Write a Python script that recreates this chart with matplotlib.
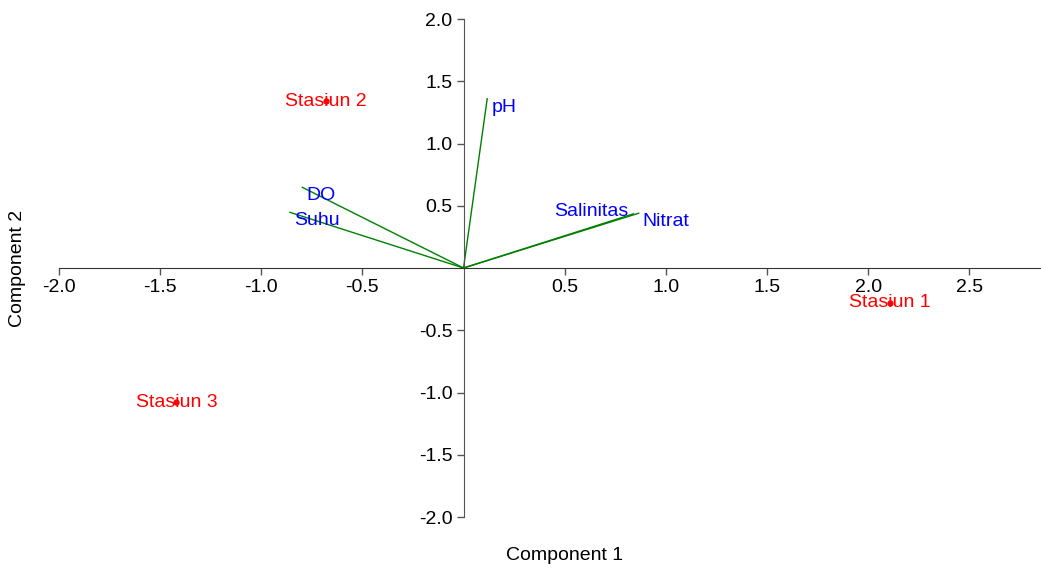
import matplotlib
matplotlib.use('Agg')
import matplotlib.pyplot as plt
import numpy as np

plt.rcParams['font.family'] = ['Liberation Sans', 'DejaVu Sans']
plt.rcParams['axes.unicode_minus'] = False

# skor stasiun
stations = ['Stasiun 1', 'Stasiun 2', 'Stasiun 3']
station_x = [2.11, -0.68, -1.42]
station_y = [-0.28, 1.34, -1.08]

# loading variabel
variables = ['pH', 'DO', 'Suhu', 'Salinitas', 'Nitrat']
load_x = [0.117, -0.797, -0.858, 0.84, 0.866]
load_y = [1.36, 0.648, 0.447, 0.435, 0.44]

xticks = [-2.0, -1.5, -1.0, -0.5, 0.5, 1.0, 1.5, 2.0, 2.5]
yticks = [-2.0, -1.5, -1.0, -0.5, 0.5, 1.0, 1.5, 2.0]

fig = plt.figure(figsize=(10.41, 5.70), dpi=100)
ax = fig.add_axes([59 / 1041, 1 - 517 / 570, 1 - 59 / 1041, (517 - 19) / 570])
ax.set_xlim(-2.0, 2.855)
ax.set_ylim(-2.0, 2.0)

for s in ['top', 'right']:
    ax.spines[s].set_visible(False)
ax.spines['left'].set_position(('data', 0))
ax.spines['bottom'].set_position(('data', 0))
ax.spines['left'].set_color('#555555')
ax.spines['bottom'].set_color('#333333')

ax.set_xticks(xticks)
ax.set_yticks(yticks)
ax.set_xticklabels([f'{t:.1f}' for t in xticks])
ax.set_yticklabels([f'{t:.1f}' for t in yticks])
ax.tick_params(axis='both', labelsize=14, length=5, width=1, color='#555555', pad=3)

# vektor loading
for name, lx, ly in zip(variables, load_x, load_y):
    ax.plot([0, lx], [0, ly], color='#008000', lw=1)
    if name == 'Salinitas':
        ax.annotate(name, (lx, ly), xytext=(-4, 2), textcoords='offset points',
                    ha='right', va='center', color='blue', fontsize=14)
    else:
        ax.annotate(name, (lx, ly), xytext=(3, 0), textcoords='offset points',
                    ha='left', va='top', color='blue', fontsize=14)

# titik stasiun
ax.plot(station_x, station_y, 'o', color='red', ms=3.5, ls='none')
for name, sx, sy in zip(stations, station_x, station_y):
    ax.text(sx, sy, name, color='red', fontsize=14, ha='center', va='center')

fig.text(565 / 1041, 1 - 555 / 570, 'Component 1', fontsize=14, ha='center', va='center')
fig.text(18 / 1041, 1 - 268 / 570, 'Component 2', fontsize=14, ha='center', va='center',
         rotation=90)

fig.savefig('out.png', dpi=100)
